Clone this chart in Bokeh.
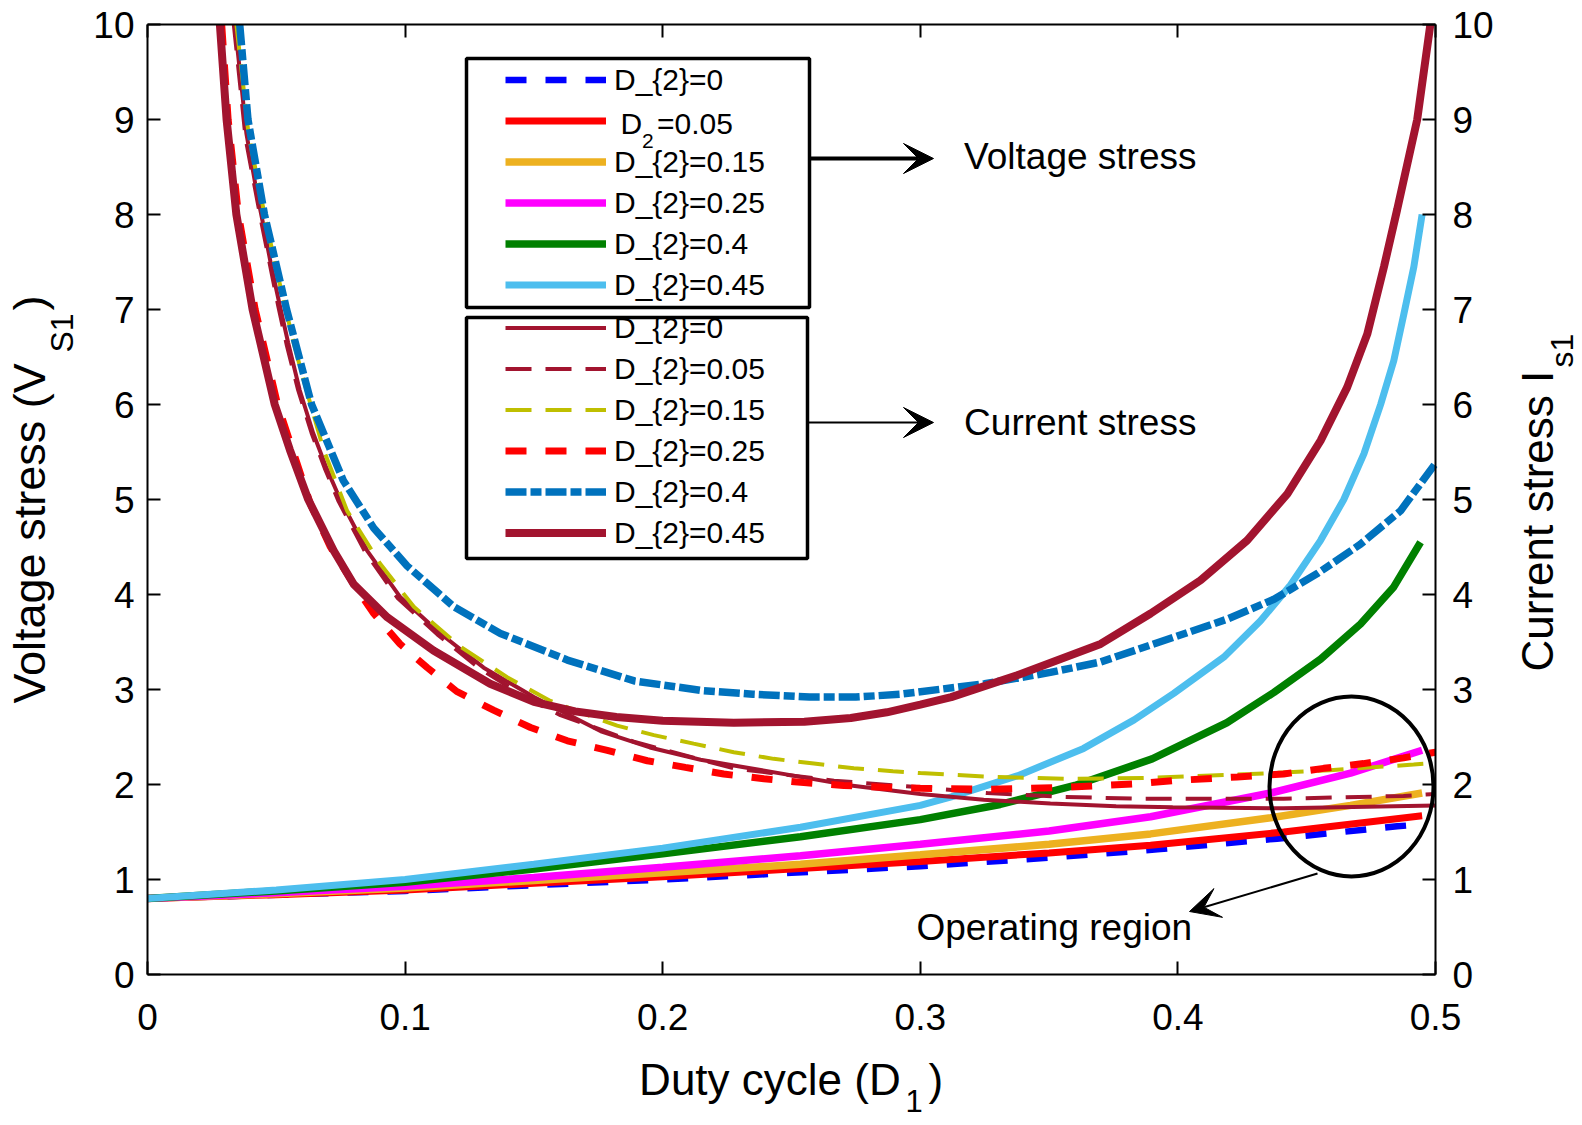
import math
from bokeh.plotting import figure
from bokeh.models import (LinearAxis, FixedTicker, Legend, LegendItem, Label,
                          Arrow, VeeHead, BoxAnnotation, Range1d)
from bokeh.embed import file_html
from bokeh.resources import INLINE

FONT = "Liberation Sans"

# ---------------- data ----------------
x_ticks = [0, 0.1, 0.2, 0.3, 0.4, 0.5]
y_ticks = [0, 1, 2, 3, 4, 5, 6, 7, 8, 9, 10]

# Voltage stress V_S1 versus D1
vs_x_d2_000 = [0.0, 0.05, 0.10, 0.15, 0.20, 0.25, 0.30, 0.35, 0.3932, 0.4385, 0.4851, 0.49]
vs_y_d2_000 = [0.80, 0.84, 0.88, 0.94, 1.00, 1.07, 1.14, 1.23, 1.32, 1.43, 1.56, 1.57]

vs_x_d2_005 = [0.0, 0.05, 0.10, 0.15, 0.20, 0.25, 0.30, 0.35, 0.3894, 0.4411, 0.4948]
vs_y_d2_005 = [0.80, 0.84, 0.89, 0.96, 1.03, 1.11, 1.19, 1.28, 1.36, 1.50, 1.67]

vs_x_d2_015 = [0.0, 0.05, 0.10, 0.15, 0.20, 0.2535, 0.30, 0.35, 0.3894, 0.436, 0.467, 0.4948]
vs_y_d2_015 = [0.80, 0.85, 0.91, 0.99, 1.07, 1.16, 1.26, 1.37, 1.48, 1.65, 1.78, 1.91]

vs_x_d2_025 = [0.0, 0.05, 0.10, 0.15, 0.20, 0.2535, 0.30, 0.35, 0.3894, 0.436, 0.467, 0.4948]
vs_y_d2_025 = [0.80, 0.86, 0.93, 1.02, 1.13, 1.25, 1.37, 1.51, 1.66, 1.91, 2.12, 2.36]

vs_x_d2_040 = [0.0, 0.05, 0.10, 0.15, 0.20, 0.2535, 0.30, 0.331, 0.36, 0.39, 0.419,
               0.4373, 0.4554, 0.4709, 0.4838, 0.4942]
vs_y_d2_040 = [0.80, 0.88, 0.97, 1.11, 1.27, 1.45, 1.63, 1.79, 1.99, 2.27, 2.65,
               2.97, 3.32, 3.69, 4.08, 4.55]

vs_x_d2_045 = [0.0, 0.05, 0.10, 0.15, 0.20, 0.2535, 0.30, 0.312, 0.3376, 0.3634, 0.383,
               0.3984, 0.4178, 0.432, 0.4437, 0.4554, 0.4644, 0.4722, 0.4787, 0.4838,
               0.4877, 0.4916, 0.4948]
vs_y_d2_045 = [0.80, 0.89, 1.00, 1.16, 1.33, 1.55, 1.78, 1.87, 2.09, 2.38, 2.68,
               2.96, 3.34, 3.72, 4.10, 4.57, 5.00, 5.48, 6.00, 6.46,
               6.95, 7.45, 8.00]

# Current stress I_s1 versus D1
cs_x_d2_000 = [0.0339, 0.0365, 0.0384, 0.0423, 0.0449, 0.0481, 0.0513, 0.0546, 0.0591,
               0.0643, 0.0695, 0.075, 0.0853, 0.0982, 0.1137, 0.1305, 0.150, 0.176,
               0.195, 0.2147, 0.2535, 0.273, 0.300, 0.3246, 0.3505, 0.376, 0.398,
               0.441, 0.500]
cs_y_d2_000 = [10.0, 9.35, 8.85, 8.25, 7.90, 7.45, 7.05, 6.65, 6.15,
               5.70, 5.33, 4.99, 4.46, 3.97, 3.59, 3.23, 2.92, 2.56,
               2.39, 2.26, 2.08, 1.99, 1.90, 1.84, 1.80, 1.77, 1.76,
               1.75, 1.78]

cs_x_d2_005 = [0.0335, 0.0362, 0.0381, 0.0419, 0.0445, 0.0477, 0.0508, 0.0541, 0.0585,
               0.0637, 0.0688, 0.0742, 0.0845, 0.0972, 0.1125, 0.129, 0.148, 0.1603,
               0.1888, 0.2276, 0.2665, 0.300, 0.326, 0.356, 0.385, 0.441, 0.4876, 0.500]
cs_y_d2_005 = [10.0, 9.30, 8.80, 8.25, 7.88, 7.45, 7.03, 6.62, 6.15,
               5.70, 5.33, 4.98, 4.45, 3.96, 3.58, 3.22, 2.90, 2.73,
               2.45, 2.17, 2.04, 1.97, 1.91, 1.87, 1.85, 1.85, 1.88, 1.90]

cs_x_d2_015 = [0.0345, 0.0372, 0.0392, 0.0432, 0.0462, 0.0498, 0.0535, 0.0570, 0.0612,
               0.0684, 0.0775, 0.0904, 0.1034, 0.1215, 0.1396, 0.1564, 0.168, 0.1823,
               0.1966, 0.212, 0.2276, 0.2431, 0.2587, 0.2742, 0.2894, 0.300, 0.328,
               0.358, 0.388, 0.428, 0.459, 0.4915, 0.496]
cs_y_d2_015 = [10.0, 9.35, 8.85, 8.30, 7.90, 7.45, 7.02, 6.62, 6.20,
               5.52, 4.88, 4.32, 3.87, 3.45, 3.13, 2.88, 2.76, 2.62,
               2.52, 2.43, 2.34, 2.27, 2.22, 2.17, 2.14, 2.12, 2.08,
               2.06, 2.07, 2.11, 2.15, 2.21, 2.22]

cs_x_d2_025 = [0.0288, 0.0313, 0.0353, 0.0418, 0.0505, 0.0633, 0.0710, 0.0800, 0.0878,
               0.0980, 0.1086, 0.1200, 0.1345, 0.1487, 0.1630, 0.1785, 0.1940, 0.2088,
               0.2237, 0.2393, 0.2548, 0.2703, 0.2858, 0.300, 0.326, 0.356, 0.385,
               0.398, 0.423, 0.441, 0.4566, 0.472, 0.4876, 0.500]
cs_y_d2_025 = [10.0, 9.0, 8.0, 7.0, 6.0, 4.95, 4.50, 4.11, 3.80,
               3.48, 3.23, 2.98, 2.78, 2.60, 2.46, 2.36, 2.25, 2.18,
               2.11, 2.06, 2.02, 1.99, 1.97, 1.96, 1.95, 1.97, 2.01,
               2.04, 2.08, 2.11, 2.17, 2.22, 2.28, 2.34]

cs_x_d2_040 = [0.0358, 0.0390, 0.0454, 0.0540, 0.0637, 0.0760, 0.0878, 0.1008, 0.1190,
               0.1370, 0.1630, 0.1890, 0.2150, 0.2350, 0.2570, 0.2750, 0.2920, 0.3250,
               0.3505, 0.3700, 0.3984, 0.4191, 0.4373, 0.4541, 0.4709, 0.4864, 0.500]
cs_y_d2_040 = [10.0, 9.0, 8.0, 7.0, 6.0, 5.20, 4.70, 4.30, 3.87,
               3.59, 3.31, 3.09, 2.99, 2.95, 2.92, 2.92, 2.95, 3.06,
               3.18, 3.29, 3.55, 3.74, 3.95, 4.22, 4.53, 4.88, 5.38]

cs_x_d2_045 = [0.0281, 0.0307, 0.0345, 0.0408, 0.0494, 0.0553, 0.0624, 0.0723, 0.0800,
               0.0931, 0.1110, 0.1330, 0.1500, 0.1660, 0.1820, 0.2000, 0.2276, 0.2550,
               0.2730, 0.2870, 0.3000, 0.3120, 0.3376, 0.3700, 0.3894, 0.4088, 0.4269,
               0.4425, 0.4554, 0.4657, 0.4735, 0.4800, 0.4851, 0.4929, 0.4980]
cs_y_d2_045 = [10.0, 9.0, 8.0, 7.0, 6.0, 5.52, 5.00, 4.46, 4.11,
               3.76, 3.41, 3.06, 2.87, 2.77, 2.71, 2.67, 2.65, 2.66,
               2.70, 2.76, 2.84, 2.92, 3.15, 3.48, 3.80, 4.15, 4.57,
               5.06, 5.62, 6.18, 6.74, 7.45, 8.05, 9.00, 10.0]

voltage_labels = ["D_{2}=0", " ", "D_{2}=0.15", "D_{2}=0.25", "D_{2}=0.4", "D_{2}=0.45"]
current_labels = ["D_{2}=0", "D_{2}=0.05", "D_{2}=0.15", "D_{2}=0.25", "D_{2}=0.4", "D_{2}=0.45"]

# ---------------- layout helpers (page pixels -> data) ----------------
W, H = 1580, 1122
FR_L, FR_R, FR_T, FR_B = 147, 1435, 24, 974     # drawn axes box, in page pixels
PX_PER_X = (FR_R - FR_L) / 0.5
PX_PER_Y = (FR_B - FR_T) / 10.0


def X(px):
    return (px - FR_L) / PX_PER_X


def Y(py):
    return (FR_B - py) / PX_PER_Y


# the frame covers the whole canvas; the axes are drawn at fixed locations
p = figure(width=W, height=H, x_range=Range1d(X(0), X(W)), y_range=Range1d(Y(H), Y(0)),
           output_backend="svg", toolbar_location=None, min_border=0,
           x_axis_location=None, y_axis_location=None)
p.grid.visible = False
p.outline_line_color = None
p.background_fill_color = "white"
p.border_fill_color = "white"


def make_axis(loc, bounds, ticks, size="37px", standoff=14):
    ax = LinearAxis(fixed_location=loc, bounds=bounds, ticker=FixedTicker(ticks=ticks))
    ax.axis_line_width = 2
    ax.axis_line_color = "black"
    ax.major_tick_line_width = 2
    ax.major_tick_line_color = "black"
    ax.major_tick_in = 13
    ax.major_tick_out = 0
    ax.minor_tick_line_color = None
    ax.major_label_text_font = FONT
    ax.major_label_text_font_size = size
    ax.major_label_text_color = "black"
    ax.major_label_standoff = standoff
    return ax


p.add_layout(make_axis(0, (0, 0.5), x_ticks, standoff=29), "below")
top_axis = make_axis(10, (0, 0.5), x_ticks, size="0px", standoff=0)
top_axis.major_label_overrides = {t: "" for t in x_ticks}
p.add_layout(top_axis, "above")
p.add_layout(make_axis(0, (0, 10), y_ticks, standoff=13), "left")
p.add_layout(make_axis(0.5, (0, 10), y_ticks, standoff=17), "right")

# ---------------- curves ----------------
C_BLUE, C_RED, C_ORANGE, C_MAG = "#0000FF", "#FF0000", "#EDB120", "#FF00FF"
C_GREEN, C_LBLUE, C_CRIM, C_OLIVE, C_DBLUE = "#008000", "#4DBEEE", "#A2142F", "#BFBF00", "#0072BD"

v_specs = [
    (vs_x_d2_000, vs_y_d2_000, C_BLUE, 6.5, "21 19"),
    (vs_x_d2_005, vs_y_d2_005, C_RED, 7, "solid"),
    (vs_x_d2_015, vs_y_d2_015, C_ORANGE, 7.5, "solid"),
    (vs_x_d2_025, vs_y_d2_025, C_MAG, 7.5, "solid"),
    (vs_x_d2_040, vs_y_d2_040, C_GREEN, 7.5, "solid"),
    (vs_x_d2_045, vs_y_d2_045, C_LBLUE, 7, "solid"),
]
c_specs = [
    (cs_x_d2_000, cs_y_d2_000, C_CRIM, 4, "solid"),
    (cs_x_d2_005, cs_y_d2_005, C_CRIM, 4, "26 14"),
    (cs_x_d2_015, cs_y_d2_015, C_OLIVE, 4, "26 14"),
    (cs_x_d2_025, cs_y_d2_025, C_RED, 7, "21 19"),
    (cs_x_d2_040, cs_y_d2_040, C_DBLUE, 7.5, "21 4 11 4"),
    (cs_x_d2_045, cs_y_d2_045, C_CRIM, 8, "solid"),
]

v_items, c_items = [], []
for (xs, ys, col, lw, dash), lab in zip(v_specs, voltage_labels):
    r = p.line(xs, ys, line_color=col, line_width=lw, line_dash=dash)
    v_items.append(LegendItem(label=lab, renderers=[r]))
for (xs, ys, col, lw, dash), lab in zip(c_specs, current_labels):
    r = p.line(xs, ys, line_color=col, line_width=lw, line_dash=dash)
    c_items.append(LegendItem(label=lab, renderers=[r]))

# ---------------- legends ----------------
ROW = 41


def make_legend(items, first_row_center_py):
    top_py = first_row_center_py - ROW / 2
    bottom_py = top_py + len(items) * ROW
    return Legend(items=items, location=(505, H - bottom_py), orientation="vertical",
                  glyph_width=101, glyph_height=ROW, label_height=ROW, spacing=0,
                  padding=0, margin=0, label_standoff=8,
                  label_text_font=FONT, label_text_font_size="30px",
                  label_text_color="black",
                  border_line_alpha=0, background_fill_alpha=0)


p.add_layout(make_legend(v_items, 79.5))
p.add_layout(make_legend(c_items, 327.5))

for (l, t, r, b) in [(466, 58, 809, 307), (466, 317, 807, 558)]:
    p.add_layout(BoxAnnotation(left=X(l), right=X(r), top=Y(t), bottom=Y(b),
                               fill_color=None, fill_alpha=0, line_color="black",
                               line_alpha=1, line_width=3.5))


def text(s, px, py, size, angle=0.0):
    # (px, py): start of the text, middle of its capital height, in page pixels
    p.add_layout(Label(x=X(px), y=Y(py), text=s, text_font=FONT,
                       text_font_size=f"{size}px", text_color="black",
                       text_align="left", text_baseline="middle", angle=angle))


# legend row "D_2=0.05" with a real subscript
text("D", 620, 122.5, 30)
text("2", 641.5, 140.5, 21)
text("=0.05", 656.5, 122.5, 30)

# annotations
text("Voltage stress", 963.6, 156, 37)
text("Current stress", 963.6, 421.5, 37)
text("Operating region", 916, 927, 37)

arrow_specs = [((810, 158), (933, 158), 4), ((808, 422), (933, 422), 2),
               ((1317, 873), (1189, 911), 2)]
for (sx, sy), (ex, ey), lw in arrow_specs:
    p.add_layout(Arrow(end=VeeHead(size=30, fill_color="black", line_color="black"),
                       x_start=X(sx), y_start=Y(sy), x_end=X(ex), y_end=Y(ey),
                       line_color="black", line_width=lw))

# operating-region ellipse
p.ellipse(x=[X(1351)], y=[Y(786)], width=[164 / PX_PER_X], height=[180 / PX_PER_Y],
          fill_color=None, line_color="black", line_width=4)

# axis titles with subscripts
text("Duty cycle (D", 638.6, 1079, 44)
text("1", 905, 1100, 31)
text(")", 928, 1079, 44)

text("Voltage stress (V", 29, 703, 45, math.pi / 2)
text("S1", 61, 352, 32, math.pi / 2)
text(")", 29, 310, 45, math.pi / 2)

text("Current stress I", 1537, 671, 44, math.pi / 2)
text("s1", 1561, 367, 32, math.pi / 2)

open("out.html", "w").write(file_html(p, INLINE))
